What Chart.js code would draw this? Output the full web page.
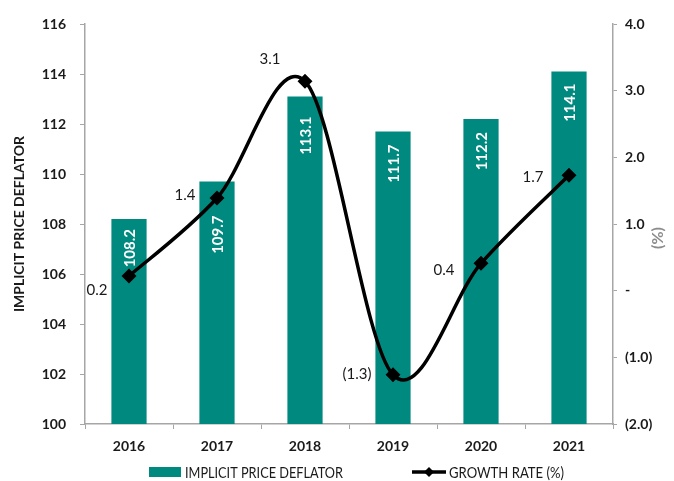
<!DOCTYPE html>
<html><head><meta charset="utf-8">
<script src="https://cdn.jsdelivr.net/npm/chart.js@4"></script>
<style>html,body{margin:0;padding:0;background:#fff}canvas{display:block}</style>
</head><body>
<canvas id="c" width="674" height="481"></canvas>
<script>
const years = ['2016', '2017', '2018', '2019', '2020', '2021'];
const deflator = [108.2, 109.7, 113.1, 111.7, 112.2, 114.1];
const growthRate = [0.22, 1.39, 3.14, -1.26, 0.41, 1.73];
const seriesNames = ['IMPLICIT PRICE DEFLATOR', 'GROWTH RATE (%)'];
const leftAxisTitle = 'IMPLICIT PRICE DEFLATOR';
const rightAxisTitle = '(%)';

const FF = '"Liberation Sans Narrow", Lato, sans-serif';
const TEAL = '#00897E';
const DARK = '#1a1a1a';
const AXIS = '#a6a6a6';

function fmtPct(v) {
  if (Math.abs(v) < 1e-9) return '-';
  return v < 0 ? '(' + Math.abs(v).toFixed(1) + ')' : v.toFixed(1);
}

// Excel-style (Catmull-Rom) smoothing applied to the library's own point elements
const smoothPlugin = {
  id: 'excelSmooth',
  beforeDatasetDraw(chart, args) {
    if (chart.data.datasets[args.index].type !== 'line') return;
    const line = args.meta.dataset;
    if (line.updateControlPoints) line.updateControlPoints(chart.chartArea, 'x');
    const pts = args.meta.data;
    const n = pts.length;
    for (let i = 0; i < n; i++) {
      const p = pts[i];
      const prev = pts[Math.max(0, i - 1)];
      const next = pts[Math.min(n - 1, i + 1)];
      const dx = (next.x - prev.x) / 6, dy = (next.y - prev.y) / 6;
      p.cp1x = p.x - dx; p.cp1y = p.y - dy;
      p.cp2x = p.x + dx; p.cp2y = p.y + dy;
    }
    line._path = undefined;
  }
};

const labelPlugin = {
  id: 'valueLabels',
  afterDatasetDraw(chart, args, opts) {
    if (chart.data.datasets[args.index].type !== 'bar') return;
    const ctx = chart.ctx;
    ctx.save();
    ctx.fillStyle = '#ffffff';
    ctx.font = 'bold 15px ' + FF;
    args.meta.data.forEach((bar, i) => {
      ctx.save();
      ctx.translate(bar.x, bar.y + opts.barLabelDrop[i]);
      ctx.rotate(-Math.PI / 2);
      ctx.textAlign = 'right';
      ctx.textBaseline = 'middle';
      ctx.fillText(chart.data.datasets[args.index].data[i].toFixed(1), 0, 1);
      ctx.restore();
    });
    ctx.restore();
  },
  afterDraw(chart, args, opts) {
    const ctx = chart.ctx;
    const lineMeta = chart.getDatasetMeta(0);
    ctx.save();
    ctx.fillStyle = DARK;
    ctx.font = '15px ' + FF;
    ctx.textAlign = 'center';
    ctx.textBaseline = 'middle';
    lineMeta.data.forEach((pt, i) => {
      const off = opts.offsets[i];
      ctx.fillText(fmtPct(chart.data.datasets[0].data[i]), pt.x + off[0], pt.y + off[1]);
    });
    // right axis title
    ctx.save();
    ctx.translate(658, 238);
    ctx.rotate(-Math.PI / 2);
    ctx.fillStyle = '#8c8c8c';
    ctx.font = 'bold 16px ' + FF;
    ctx.fillText(rightAxisTitle, 0, 0);
    ctx.restore();
    // legend
    const ly = 472;
    ctx.fillStyle = TEAL;
    ctx.fillRect(149, ly - 5, 32, 10);
    ctx.fillStyle = DARK;
    ctx.font = '15px ' + FF;
    ctx.textAlign = 'left';
    ctx.fillText(seriesNames[0], 185, ly + 1, 158);
    ctx.strokeStyle = '#000';
    ctx.lineWidth = 3.5;
    ctx.beginPath(); ctx.moveTo(412, ly); ctx.lineTo(446, ly); ctx.stroke();
    ctx.fillStyle = '#000';
    ctx.beginPath();
    ctx.moveTo(429, ly - 5); ctx.lineTo(434, ly); ctx.lineTo(429, ly + 5); ctx.lineTo(424, ly);
    ctx.closePath(); ctx.fill();
    ctx.fillStyle = DARK;
    ctx.fillText(seriesNames[1], 449, ly + 1, 115);
    ctx.restore();
  }
};

new Chart(document.getElementById('c'), {
  data: {
    labels: years,
    datasets: [
      {
        type: 'line', label: seriesNames[1], data: growthRate, yAxisID: 'y1', order: 0,
        borderColor: '#000', borderWidth: 3.5, tension: 0.4,
        pointStyle: 'rectRot', pointRadius: 5, pointBackgroundColor: '#000', pointBorderColor: '#000'
      },
      {
        type: 'bar', label: seriesNames[0], data: deflator, yAxisID: 'y', order: 1,
        backgroundColor: TEAL, barPercentage: 0.8, categoryPercentage: 0.5
      }
    ]
  },
  options: {
    responsive: false, animation: false, devicePixelRatio: 1,
    layout: { padding: { top: 24, bottom: 27, left: 0, right: 0 } },
    plugins: {
      legend: { display: false }, tooltip: { enabled: false },
      valueLabels: {
        offsets: [[-32, 14], [-32, -3], [-35, -22], [-36, -1], [-37, 7], [-36, 2]],
        barLabelDrop: [10, 34, 20, 13, 13, 12]
      }
    },
    scales: {
      x: {
        afterFit: s => { s.height = 30; },
        grid: { offset: true, drawOnChartArea: false, tickLength: 5, color: AXIS },
        border: { color: AXIS, width: 1.5 },
        ticks: { color: DARK, font: { family: FF, size: 14, weight: 'bold' }, padding: 9 }
      },
      y: {
        position: 'left', min: 100, max: 116,
        afterFit: s => { s.width = 85; },
        grid: { drawOnChartArea: false, tickLength: 5, color: AXIS },
        border: { color: AXIS, width: 1.5 },
        ticks: { stepSize: 2, color: DARK, font: { family: FF, size: 14, weight: 'bold' }, padding: 14 },
        title: { display: true, text: leftAxisTitle, color: DARK, font: { family: FF, size: 14, weight: 'bold' }, padding: 11 }
      },
      y1: {
        position: 'right', min: -2, max: 4,
        afterFit: s => { s.width = 61; },
        grid: { drawOnChartArea: false, tickLength: 4, color: AXIS },
        border: { color: AXIS, width: 1.5 },
        ticks: { stepSize: 1, color: DARK, font: { family: FF, size: 14, weight: 'bold' }, padding: 8, callback: v => fmtPct(v) }
      }
    }
  },
  plugins: [smoothPlugin, labelPlugin]
});
</script>
</body></html>
